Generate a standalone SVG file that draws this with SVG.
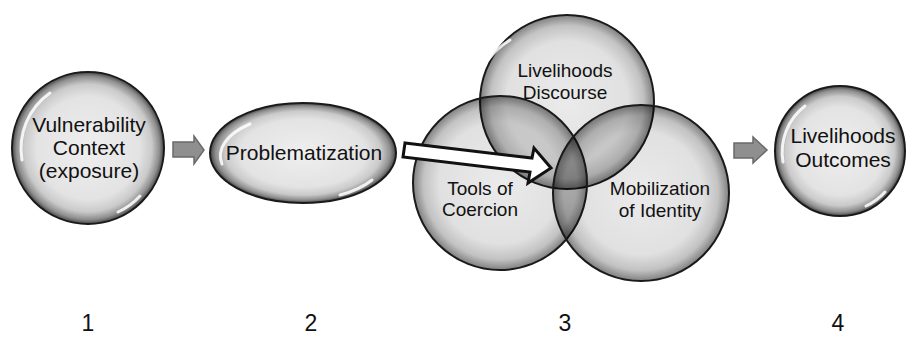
<svg xmlns="http://www.w3.org/2000/svg" width="906" height="337" viewBox="0 0 906 337">
<defs>
<radialGradient id="solid" cx="50%" cy="50%" r="50%">
<stop offset="0%" stop-color="#efefef"/>
<stop offset="68%" stop-color="#e3e3e3"/>
<stop offset="84%" stop-color="#cacaca"/>
<stop offset="94%" stop-color="#8e8e8e"/>
<stop offset="100%" stop-color="#474747"/>
</radialGradient>
<radialGradient id="venn" cx="50%" cy="50%" r="50%">
<stop offset="0%" stop-color="#000" stop-opacity="0.08"/>
<stop offset="70%" stop-color="#000" stop-opacity="0.12"/>
<stop offset="88%" stop-color="#000" stop-opacity="0.24"/>
<stop offset="100%" stop-color="#000" stop-opacity="0.5"/>
</radialGradient>
<style>
.node{stroke:#1a1a1a;stroke-width:2}
.solid{fill:url(#solid)}
.venn{fill:url(#venn)}
.hl{fill:none;stroke:#fff;stroke-width:3;stroke-linecap:round;opacity:0.85}
.lbl{font-family:"Liberation Sans",Arial,sans-serif;fill:#111;text-anchor:middle}
.big{font-size:21px}
.mid{font-size:19px}
.num{font-family:"Liberation Sans",Arial,sans-serif;font-size:23px;fill:#111;text-anchor:middle}
.grey{fill:#8f8f8f;stroke:#6a6a6a;stroke-width:1.5}
.white{fill:#fff;stroke:#111;stroke-width:3;stroke-linejoin:miter}
</style>
</defs>
<rect width="906" height="337" fill="#fff"/>

<g id="node-vulnerability">
<circle class="node solid" cx="88" cy="148" r="76"/>
<path class="hl" d="M 22 160 A 68 68 0 0 1 50 93"/>
<path class="hl" d="M 140 196 A 68 68 0 0 1 118 212"/>
<text class="lbl big" x="89" y="132">Vulnerability</text>
<text class="lbl big" x="89" y="155">Context</text>
<text class="lbl big" x="89" y="178">(exposure)</text>
</g>

<g id="node-problematization">
<ellipse class="node solid" cx="303" cy="153" rx="93" ry="50"/>
<path class="hl" d="M 222 164 A 85 42 0 0 1 250 124"/>
<path class="hl" d="M 372 180 A 85 42 0 0 1 340 195"/>
<text class="lbl big" x="304" y="160">Problematization</text>
</g>

<g id="node-venn">
<circle id="node-discourse" class="node venn" cx="567" cy="102" r="87"/>
<circle id="node-coercion" class="node venn" cx="500" cy="183" r="87"/>
<circle id="node-identity" class="node venn" cx="641" cy="193" r="88"/>
<path class="hl" d="M 488 60 A 80 80 0 0 1 510 40" opacity="0.6"/>
<path class="hl" d="M 722 236 A 80 80 0 0 1 700 262" opacity="0.6"/>
<text class="lbl mid" x="565" y="77">Livelihoods</text>
<text class="lbl mid" x="565" y="99">Discourse</text>
<text class="lbl mid" x="480" y="195">Tools of</text>
<text class="lbl mid" x="480" y="216">Coercion</text>
<text class="lbl mid" x="660" y="195">Mobilization</text>
<text class="lbl mid" x="660" y="217">of Identity</text>
</g>

<g id="node-outcomes">
<circle class="node solid" cx="840" cy="151" r="65"/>
<path class="hl" d="M 783 162 A 58 58 0 0 1 805 106"/>
<path class="hl" d="M 885 192 A 58 58 0 0 1 866 206"/>
<text class="lbl big" x="843" y="143">Livelihoods</text>
<text class="lbl big" x="843" y="167">Outcomes</text>
</g>

<g id="connectors">
<polygon class="grey" points="173,142 194,142 194,136 204,150 194,164 194,157 173,157"/>
<polygon class="white" points="405,143 532,158 534,148 551,168 528,183 530,172 403,157"/>
<polygon class="grey" points="734,143 753,143 753,137 767,150 753,163 753,158 734,158"/>
</g>

<g id="numbers">
<text class="num" x="88" y="331">1</text>
<text class="num" x="311" y="331">2</text>
<text class="num" x="565" y="331">3</text>
<text class="num" x="838" y="331">4</text>
</g>
</svg>
